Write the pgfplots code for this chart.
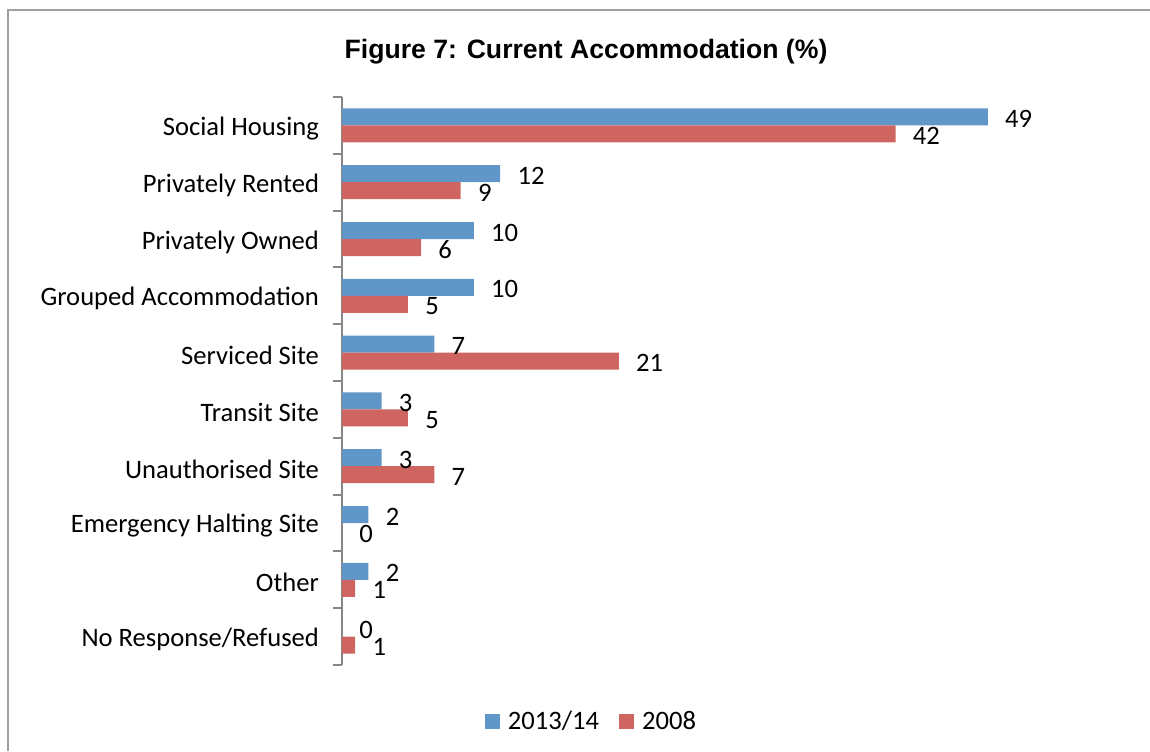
\documentclass[border=0pt]{standalone}
\usepackage{fontspec}
\setmainfont{Carlito}
\newfontfamily\arialfont{Liberation Sans}
\usepackage{pgfplots}
\pgfplotsset{compat=1.18}
\definecolor{blueS}{RGB}{97,150,201}
\definecolor{redS}{RGB}{206,101,96}
\definecolor{axgray}{RGB}{134,134,134}
\definecolor{framegray}{RGB}{160,160,160}

\begin{document}
\begin{tikzpicture}
\path[use as bounding box] (0pt,0pt) rectangle (575pt,375.5pt);
\draw[framegray, line width=1pt] (4pt,0pt) -- (4pt,370.5pt) -- (575pt,370.5pt);
\node[font=\arialfont\bfseries\fontsize{13.3}{15}\selectfont] at (293pt,349.5pt) {Figure 7: Current Accommodation (\%)};
\begin{axis}[
  at={(171pt,43pt)}, anchor=south west, scale only axis, width=329.5pt, height=284pt,
  xbar=0pt, bar width=8.5pt, xmin=0, xmax=50, ymin=-0.5, ymax=9.5, y dir=reverse,
  axis x line=none, axis y line*=left,
  ytick={0,...,9},
  yticklabels={Social Housing, Privately Rented, Privately Owned, Grouped Accommodation, Serviced Site, Transit Site, Unauthorised Site, Emergency Halting Site, Other, No Response/Refused},
  major tick length=0pt, minor ytick={-0.5,0.5,...,9.5}, minor tick length=4.5pt,
  tick align=outside, ytick pos=left,
  tick style={axgray, line width=1pt}, axis line style={axgray, line width=1pt},
  yticklabel style={font=\fontsize{13.3}{15}\selectfont, anchor=east, xshift=-8pt, yshift=-1.5pt},
  /pgf/number format/assume math mode=true,
  nodes near coords,
  nodes near coords style={font=\fontsize{13.3}{15}\selectfont, anchor=west, inner sep=0pt, xshift=8.5pt, yshift=-1pt},
  legend style={at={(0.38,-0.1)}, anchor=center, draw=none, legend columns=2, font=\fontsize{13.3}{15}\selectfont,
    /tikz/every odd column/.append style={column sep=2pt},
    /tikz/every even column/.append style={column sep=8pt}},
  legend image code/.code={\fill (0pt,-3.75pt) rectangle (7.5pt,3.75pt);},
]
\addplot[fill=blueS, draw=none, bar shift=4.25pt] coordinates {(49,0) (12,1) (10,2) (10,3) (7,4) (3,5) (3,6) (2,7) (2,8) (0,9)};
\addplot[fill=redS, draw=none, bar shift=-4.25pt] coordinates {(42,0) (9,1) (6,2) (5,3) (21,4) (5,5) (7,6) (0,7) (1,8) (1,9)};
\legend{2013/14, 2008}
\end{axis}
\end{tikzpicture}
\end{document}
